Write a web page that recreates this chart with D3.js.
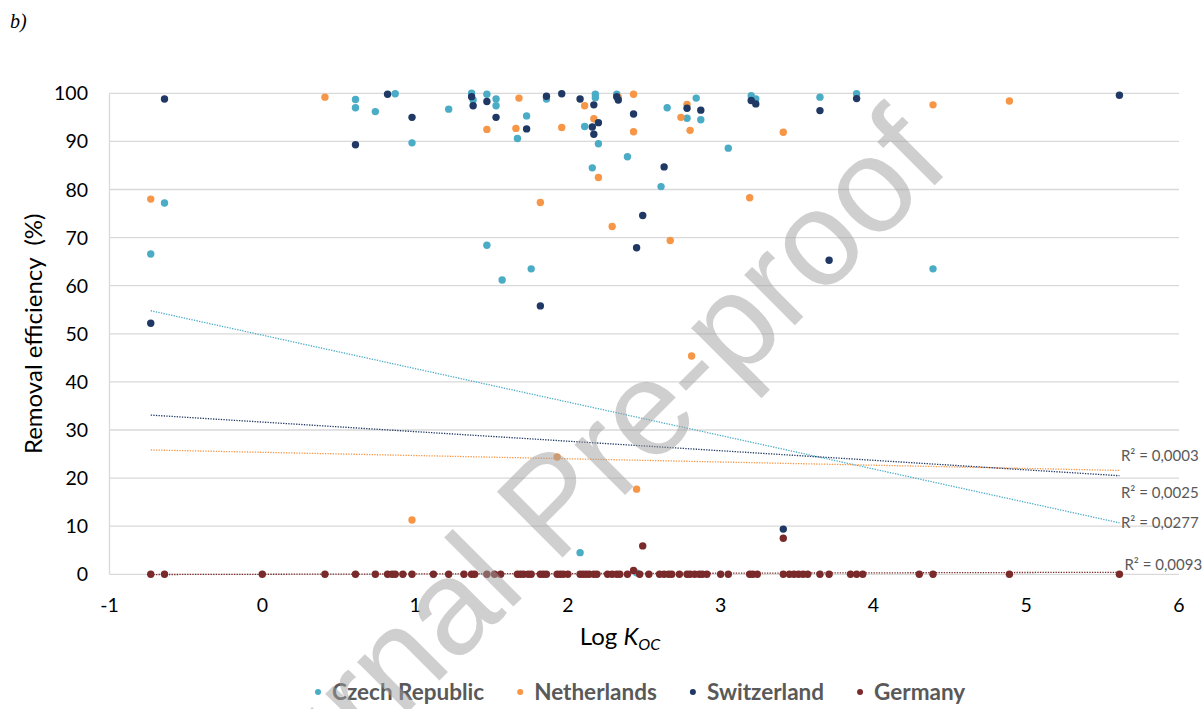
<!DOCTYPE html>
<html>
<head>
<meta charset="utf-8">
<script src="https://cdn.jsdelivr.net/npm/d3@7"></script>
<style>
  body { margin: 0; background: #fff; }
  svg { display: block; }
</style>
</head>
<body>
<svg id="chart" width="1202" height="709"></svg>
<script>
// ---- data: removal efficiency (%) against log Koc, per country ----
const seriesNames  = ["Czech Republic", "Netherlands", "Switzerland", "Germany"];
const seriesColors = ["#4bacc6", "#f79646", "#1f3864", "#7a2a2a"];

const czechX = [-0.73, -0.64, 0.61, 0.61, 0.74, 0.87, 0.98, 1.22, 1.37, 1.38, 1.47, 1.47, 1.53, 1.53, 1.57,
                1.67, 1.73, 1.76, 1.86, 2.08, 2.11, 2.16, 2.18, 2.18, 2.20, 2.32, 2.39, 2.45, 2.61, 2.65,
                2.78, 2.84, 2.87, 3.05, 3.20, 3.23, 3.65, 3.89, 4.39];
const czechY = [66.6, 77.2, 98.7, 97.0, 96.2, 99.9, 89.7, 96.7, 100, 98.6, 99.8, 68.4, 98.8, 97.4, 61.2,
                90.6, 95.3, 63.5, 98.8, 4.5, 93.1, 84.5, 99.8, 99.1, 89.5, 99.8, 86.8, 0.3, 80.6, 97.0,
                94.8, 99.0, 94.5, 88.6, 99.5, 98.8, 99.2, 99.9, 63.5];

const netherlandsX = [-0.73, 0.41, 0.98, 1.47, 1.66, 1.68, 1.82, 1.93, 1.96, 2.11, 2.17, 2.20, 2.29,
                      2.33, 2.43, 2.43, 2.45, 2.67, 2.74, 2.78, 2.80, 2.81, 3.19, 3.41, 4.39, 4.89];
const netherlandsY = [78.0, 99.2, 11.3, 92.5, 92.7, 99.0, 77.3, 24.4, 92.9, 97.4, 94.7, 82.5, 72.3,
                      99.2, 99.8, 92.0, 17.7, 69.4, 95.0, 97.7, 92.3, 45.4, 78.3, 91.9, 97.6, 98.4];

const switzerlandX = [-0.73, -0.64, 0.61, 0.82, 0.98, 1.37, 1.38, 1.47, 1.53, 1.73, 1.82, 1.86, 1.96,
                      2.08, 2.16, 2.17, 2.17, 2.20, 2.32, 2.33, 2.43, 2.45, 2.49, 2.63, 2.78, 2.87,
                      3.20, 3.23, 3.41, 3.65, 3.71, 3.89, 5.61];
const switzerlandY = [52.2, 98.8, 89.3, 99.8, 95.0, 99.3, 97.4, 98.3, 95.0, 92.6, 55.8, 99.4, 99.9,
                      98.8, 93.0, 97.6, 91.5, 93.9, 99.3, 98.6, 95.7, 67.9, 74.6, 84.7, 96.9, 96.5,
                      98.5, 97.8, 9.4, 96.4, 65.3, 98.9, 99.6];

const germanyX = [-0.73, -0.64, 0.00, 0.41, 0.61, 0.74, 0.82, 0.85, 0.87, 0.92, 0.98, 1.12, 1.22, 1.32,
                  1.37, 1.39, 1.47, 1.52, 1.56, 1.67, 1.69, 1.71, 1.74, 1.76, 1.82, 1.84, 1.86, 1.93,
                  1.95, 1.97, 2.00, 2.08, 2.10, 2.12, 2.14, 2.17, 2.19, 2.26, 2.29, 2.32, 2.34, 2.39,
                  2.43, 2.47, 2.49, 2.53, 2.60, 2.63, 2.66, 2.68, 2.73, 2.78, 2.80, 2.83, 2.86, 2.88,
                  2.91, 3.00, 3.05, 3.19, 3.21, 3.24, 3.41, 3.41, 3.45, 3.48, 3.51, 3.54, 3.57, 3.65,
                  3.71, 3.85, 3.89, 3.93, 4.30, 4.39, 4.89, 5.61];
const germanyY = [0, 0, 0, 0, 0, 0, 0, 0, 0, 0, 0, 0, 0, 0,
                  0, 0, 0, 0, 0, 0, 0, 0, 0, 0, 0, 0, 0, 0,
                  0, 0, 0, 0, 0, 0, 0, 0, 0, 0, 0, 0, 0, 0,
                  0.8, 0, 5.9, 0, 0, 0, 0, 0, 0, 0, 0, 0, 0, 0,
                  0, 0, 0, 0, 0, 0, 0, 7.5, 0, 0, 0, 0, 0, 0,
                  0, 0, 0, 0, 0, 0, 0, 0];

// linear trend lines: fitted value at the lowest and highest log Koc
const trendStartY = [54.8, 25.85, 33.1, -0.05];
const trendEndY   = [10.7, 21.6, 20.5, 0.42];
const r2Labels    = ["R² = 0,0277", "R² = 0,0003", "R² = 0,0025", "R² = 0,0093"];

const xTicks = [-1, 0, 1, 2, 3, 4, 5, 6];
const yTicks = [0, 10, 20, 30, 40, 50, 60, 70, 80, 90, 100];

// ---- layout ----
const svg = d3.select("#chart");
const plotLeft = 109.5, plotRight = 1179, plotTop = 93.3, plotBottom = 574.3;
const x = d3.scaleLinear().domain([-1, 6]).range([plotLeft, plotRight]);
const y = d3.scaleLinear().domain([0, 100]).range([plotBottom, plotTop]);
const FONT = "Lato, 'Open Sans', sans-serif";

const series = [
  { xs: czechX, ys: czechY },
  { xs: netherlandsX, ys: netherlandsY },
  { xs: switzerlandX, ys: switzerlandY },
  { xs: germanyX, ys: germanyY }
].map((s, i) => ({
  name: seriesNames[i], color: seriesColors[i],
  points: s.xs.map((v, j) => ({ x: v, y: s.ys[j] }))
}));

// panel label
svg.append("text").attr("x", 10).attr("y", 28)
  .attr("font-family", "'Liberation Serif', 'Times New Roman', serif")
  .attr("font-style", "italic").attr("font-size", 20).text("b)");

// horizontal gridlines
svg.append("g").selectAll("line").data(yTicks).join("line")
  .attr("x1", plotLeft).attr("x2", plotRight)
  .attr("y1", d => y(d)).attr("y2", d => y(d))
  .attr("stroke", "#d9d9d9").attr("stroke-width", 1.3);

// vertical axis line
svg.append("line").attr("x1", plotLeft).attr("x2", plotLeft)
  .attr("y1", y(100)).attr("y2", y(0))
  .attr("stroke", "#d9d9d9").attr("stroke-width", 1.3);

// y tick labels
svg.append("g").selectAll("text").data(yTicks).join("text")
  .attr("x", 88).attr("y", d => y(d) + 7)
  .attr("text-anchor", "end").attr("font-family", FONT).attr("font-size", 19.5)
  .attr("fill", "#000").text(d => d);

// x tick labels
svg.append("g").selectAll("text").data(xTicks).join("text")
  .attr("x", d => x(d)).attr("y", 612)
  .attr("text-anchor", "middle").attr("font-family", FONT).attr("font-size", 19.5)
  .attr("fill", "#000").text(d => d);

// axis titles
svg.append("text")
  .attr("transform", `translate(42,${(plotTop + plotBottom) / 2}) rotate(-90)`)
  .attr("text-anchor", "middle").attr("font-family", FONT).attr("font-size", 24)
  .attr("fill", "#000").style("white-space", "pre")
  .text("Removal efficiency  (%)");

const xt = svg.append("text").attr("x", 620).attr("y", 645)
  .attr("text-anchor", "middle").attr("font-family", FONT).attr("font-size", 24).attr("fill", "#000");
xt.append("tspan").text("Log ");
xt.append("tspan").attr("font-style", "italic").text("K");
xt.append("tspan").attr("font-style", "italic").attr("font-size", 16).attr("dy", 5).text("OC");

// trend lines
const xExtent = d3.extent(series.flatMap(s => s.points.map(p => p.x)));
svg.append("g").selectAll("line").data(series).join("line")
  .attr("x1", x(xExtent[0])).attr("x2", x(xExtent[1]))
  .attr("y1", (d, i) => y(trendStartY[i])).attr("y2", (d, i) => y(trendEndY[i]))
  .attr("stroke", d => d.color).attr("stroke-width", 1.3)
  .attr("stroke-dasharray", "1.3,1.3");

// R² labels beside the line ends
const r2Offsets = [0, -14, 17, -7];
const r2Shift = [1.5, 1.5, 1.5, 5];
svg.append("g").selectAll("text").data(r2Labels).join("text")
  .attr("x", (d, i) => x(xExtent[1]) + r2Shift[i])
  .attr("y", (d, i) => y(trendEndY[i]) + r2Offsets[i] + 5)
  .attr("font-family", FONT).attr("font-size", 15).attr("fill", "#595959")
  .text(d => d);

// scatter points
series.forEach(s => {
  svg.append("g").selectAll("circle").data(s.points).join("circle")
    .attr("cx", d => x(d.x)).attr("cy", d => y(d.y)).attr("r", 3.7)
    .attr("fill", s.color);
});

// legend, laid out left to right from the first marker
const legend = svg.append("g").attr("transform", "translate(318,692)");
let cursor = 0;
series.forEach(s => {
  const g = legend.append("g").attr("transform", `translate(${cursor},0)`);
  g.append("circle").attr("cx", 0).attr("cy", 0).attr("r", 3).attr("fill", s.color);
  const t = g.append("text").attr("x", 14).attr("y", 7.8)
    .attr("font-family", FONT).attr("font-weight", "bold").attr("font-size", 22.5)
    .attr("fill", "#595959").text(s.name);
  cursor += 14 + t.node().getComputedTextLength() + 36;
});

// watermark over the whole figure
svg.append("text")
  .attr("transform", "translate(584,536) rotate(-45)")
  .attr("text-anchor", "middle")
  .attr("font-family", "'Liberation Sans', Arial, sans-serif")
  .attr("font-size", 135).attr("fill", "#a0a0a0").attr("opacity", 0.5)
  .text("Journal Pre-proof");
</script>
</body>
</html>
